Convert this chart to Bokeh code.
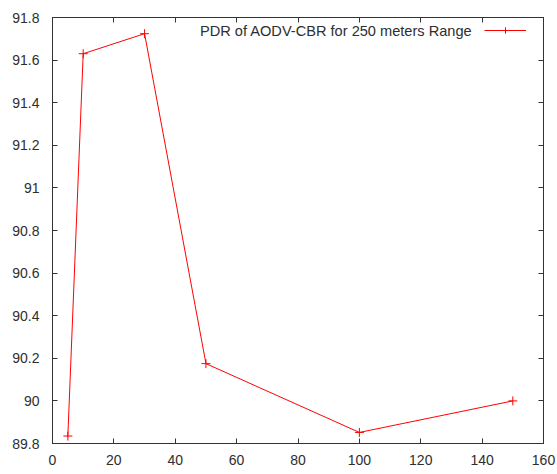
from bokeh.plotting import figure
from bokeh.models import (FixedTicker, LinearAxis, Legend, LegendItem, Label)
from bokeh.embed import file_html
from bokeh.resources import INLINE

# ---- data ----
x_vals = [5, 10, 30, 50, 100, 150]
pdr_vals = [89.835, 91.63, 91.724, 90.175, 89.852, 90.0]
series_name = "PDR of AODV-CBR for 250 meters Range"
x_ticks = [0, 20, 40, 60, 80, 100, 120, 140, 160]
y_ticks = [89.8, 90.0, 90.2, 90.4, 90.6, 90.8, 91.0, 91.2, 91.4, 91.6, 91.8]
y_tick_labels = ["89.8", "90", "90.2", "90.4", "90.6", "90.8", "91", "91.2", "91.4", "91.6", "91.8"]

FONT = "Liberation Sans"
TXT = "#2e2e2e"
AX = "#333333"

p = figure(width=557, height=474, x_range=(0, 160), y_range=(89.8, 91.8),
           output_backend="svg", toolbar_location=None,
           min_border_left=52, min_border_right=14, min_border_top=17,
           min_border_bottom=31, x_axis_location=None, y_axis_location=None)
p.grid.visible = False
p.outline_line_color = AX
p.background_fill_color = "white"
p.border_fill_color = "white"


def style_axis(ax, ticks, show_labels):
    ax.ticker = FixedTicker(ticks=ticks)
    ax.major_tick_in = 5
    ax.major_tick_out = 0
    ax.minor_tick_line_color = None
    ax.axis_line_color = AX
    ax.major_tick_line_color = AX
    ax.major_label_text_font = FONT
    ax.major_label_text_font_size = "14px"
    ax.major_label_text_color = TXT
    if show_labels:
        ax.major_label_standoff = 13
    else:
        ax.major_label_standoff = 0
        ax.major_label_overrides = {t: "" for t in ticks}


xb = LinearAxis()
style_axis(xb, x_ticks, True)
xb.major_label_standoff = 11
p.add_layout(xb, "below")

yl = LinearAxis()
style_axis(yl, y_ticks, True)
yl.major_label_overrides = {t: s for t, s in zip(y_ticks, y_tick_labels)}
p.add_layout(yl, "left")

xt = LinearAxis()
style_axis(xt, x_ticks, False)
p.add_layout(xt, "above")

yr = LinearAxis()
style_axis(yr, y_ticks, False)
p.add_layout(yr, "right")

line_r = p.line(x_vals, pdr_vals, line_color="#ff0000", line_width=1)
pts_r = p.scatter(x_vals, pdr_vals, marker="cross", size=9, line_color="#ff0000",
                  line_width=1)

legend = Legend(items=[LegendItem(label=" ", renderers=[line_r, pts_r])],
                location=(432, 405), glyph_width=42, glyph_height=16,
                label_text_font_size="1px", label_width=0, label_height=0,
                label_standoff=0, padding=0, margin=0, spacing=0,
                background_fill_alpha=0, border_line_alpha=0)
p.add_layout(legend, "center")

p.add_layout(Label(x=420, y=413, x_units="screen", y_units="screen",
                   text=series_name, text_align="right", text_baseline="middle",
                   text_font=FONT, text_font_size="14.6px", text_color=TXT))

open("out.html", "w").write(file_html(p, INLINE))
